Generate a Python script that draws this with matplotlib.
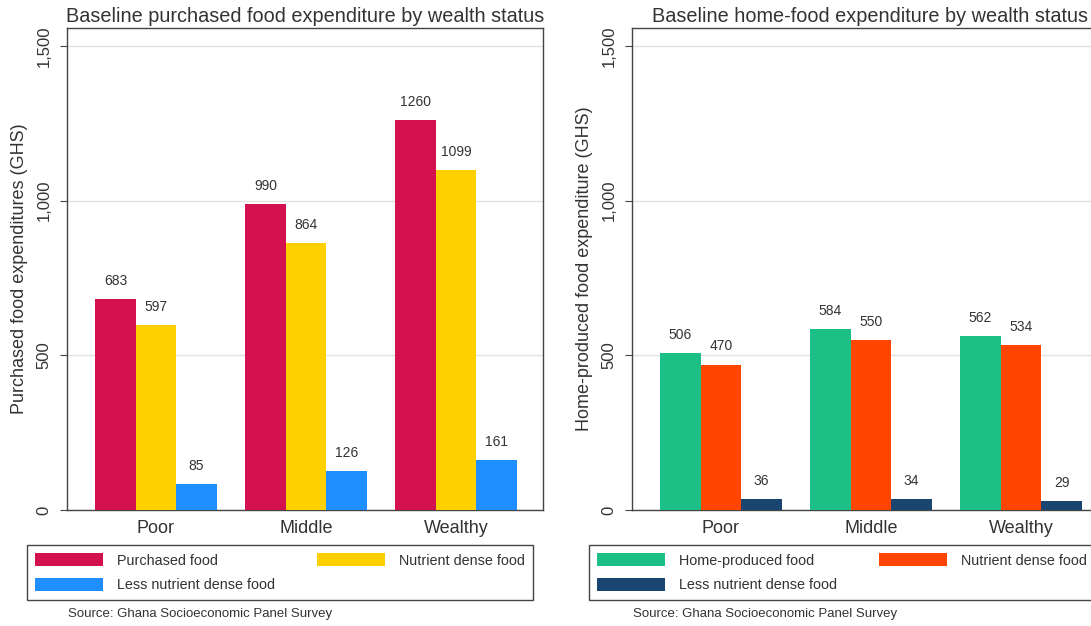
import numpy as np
from matplotlib import pyplot as plt

plt.rcParams["font.family"] = ["Liberation Sans", "DejaVu Sans"]

groups = ["Poor", "Middle", "Wealthy"]

# Left panel: purchased food
purchased = [683, 990, 1260]
purchased_nd = [597, 864, 1099]
purchased_lnd = [85, 126, 161]

# Right panel: home-produced food
home = [506, 584, 562]
home_nd = [470, 550, 534]
home_lnd = [36, 34, 29]

yticks = [0, 500, 1000, 1500]
ytick_labels = ["0", "500", "1,000", "1,500"]

BAR_W = 0.27
TXT = "#333333"

fig = plt.figure(figsize=(10.91, 6.26), dpi=100)
ax1 = fig.add_axes([0.0614, 0.1853, 0.4363, 0.770])
ax2 = fig.add_axes([0.5793, 0.1853, 0.4363, 0.770])


def draw_panel(ax, series, labels, colors, title, ylabel):
    x = np.arange(len(groups))
    bars = []
    for k, (vals, col) in enumerate(zip(series, colors)):
        b = ax.bar(x + (k - 1) * BAR_W, vals, BAR_W, color=col, label=labels[k], zorder=3)
        bars.append(b)
        for rect, v in zip(b, vals):
            ax.annotate(str(v), (rect.get_x() + rect.get_width() / 2, v),
                        xytext=(0, 8), textcoords="offset points",
                        ha="center", va="bottom", fontsize=10, color=TXT)
    ax.set_xlim(-0.593, 2.58)
    ax.set_ylim(0, 1558)
    ax.set_xticks(x)
    ax.set_xticklabels(groups, fontsize=13, color=TXT)
    ax.tick_params(axis="x", length=0, pad=7)
    ax.set_yticks(yticks)
    ax.set_yticklabels(ytick_labels, rotation=90, va="center", fontsize=12, color=TXT)
    ax.tick_params(axis="y", length=5, color="#444444", pad=6)
    ax.grid(axis="y", color="#e2e2e2", linewidth=1, zorder=0)
    for s in ax.spines.values():
        s.set_color("#444444")
        s.set_linewidth(1)
    ax.set_title(title, fontsize=14.3, color=TXT, pad=4)
    ax.set_ylabel(ylabel, fontsize=13, color=TXT, labelpad=6)
    return bars


b1 = draw_panel(ax1, [purchased, purchased_nd, purchased_lnd],
                ["Purchased food", "Nutrient dense food", "Less nutrient dense food"],
                ["#D3114F", "#FFD000", "#1F8FFF"],
                "Baseline purchased food expenditure by wealth status",
                "Purchased food expenditures (GHS)")
b2 = draw_panel(ax2, [home, home_nd, home_lnd],
                ["Home-produced food", "Nutrient dense food", "Less nutrient dense food"],
                ["#1CBF85", "#FF4500", "#1A4570"],
                "Baseline home-food expenditure by wealth status",
                "Home-produced food expenditure (GHS)")


def add_legend(ax, bars, x0):
    handles = [bars[0], bars[2], bars[1]]
    leg = ax.legend(handles, [h.get_label() for h in handles], ncol=2,
                    loc="upper left", bbox_to_anchor=(x0, -0.19, 1.063, 0.117),
                    mode="expand", borderaxespad=0, fontsize=10.4,
                    handlelength=4.7, handleheight=1.04, handletextpad=1.0,
                    labelspacing=0.68, frameon=True, fancybox=False,
                    borderpad=0.55, columnspacing=1.0)
    leg.get_frame().set_edgecolor("#444444")
    leg.get_frame().set_linewidth(1)
    leg.get_frame().set_alpha(1)
    for t in leg.get_texts():
        t.set_color(TXT)


add_legend(ax1, b1, -0.084)
add_legend(ax2, b2, -0.090)

fig.text(68 / 1091, 1 - 614 / 626, "Source: Ghana Socioeconomic Panel Survey",
         fontsize=9.5, color=TXT, va="center")
fig.text(633 / 1091, 1 - 614 / 626, "Source: Ghana Socioeconomic Panel Survey",
         fontsize=9.5, color=TXT, va="center")

fig.savefig("out.png", dpi=100)
